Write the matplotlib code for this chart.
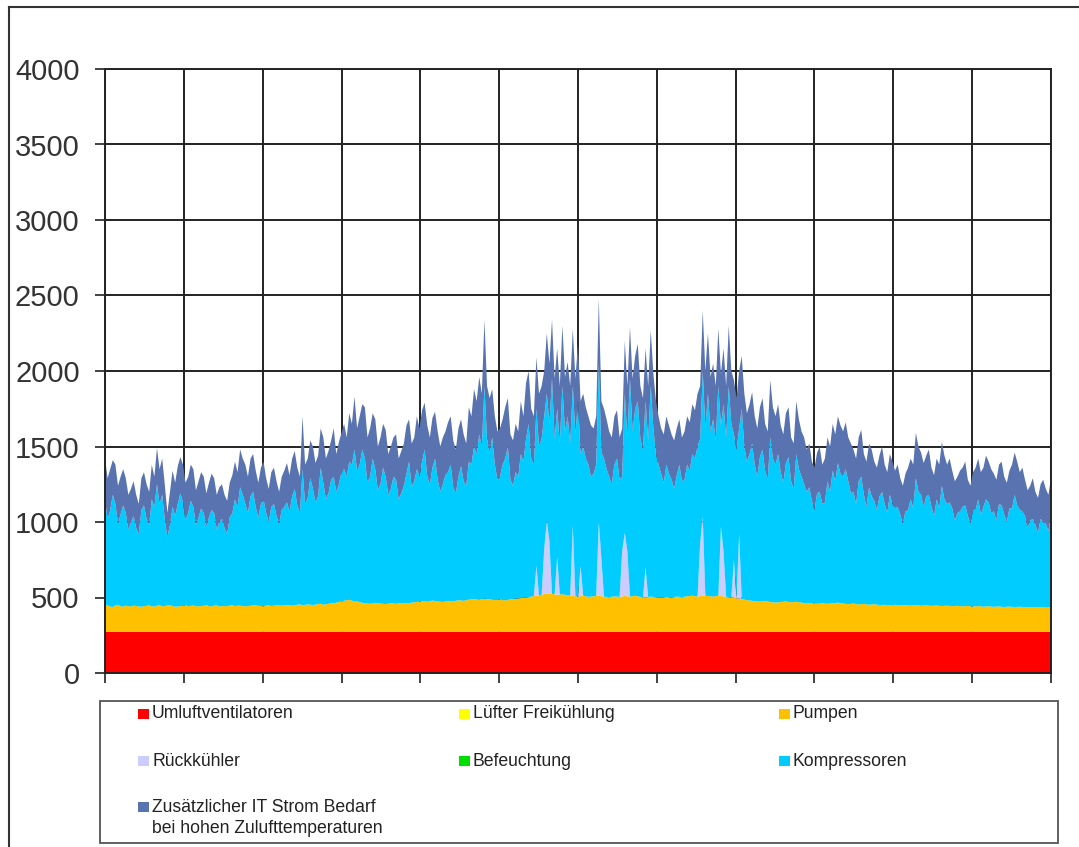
import numpy as np
import matplotlib.pyplot as plt
from matplotlib.patches import Rectangle
from matplotlib.lines import Line2D

plt.rcParams['font.family'] = ['Liberation Sans', 'DejaVu Sans']

# Jahresverlauf, ein Wert pro Tag (Oberkanten der Flächen, kW)
umluft_oben = 272
pumpen_oben = [
    445, 449, 440, 437, 448, 451, 442, 439, 446, 443,
    440, 446, 444, 441, 438, 443, 445, 448, 442, 439,
    446, 450, 441, 444, 447, 450, 443, 439, 440, 443,
    445, 448, 442, 445, 447, 443, 441, 444, 445, 449,
    443, 440, 446, 449, 440, 443, 444, 441, 447, 450,
    442, 446, 446, 443, 441, 444, 445, 449, 448, 445,
    444, 441, 447, 450, 442, 446, 448, 451, 445, 448,
    450, 447, 446, 449, 452, 455, 448, 451, 455, 452,
    450, 453, 456, 459, 452, 455, 458, 461, 462, 466,
    470, 474, 478, 482, 485, 479, 472, 475, 468, 465,
    462, 460, 458, 461, 465, 462, 460, 458, 456, 459,
    462, 460, 458, 461, 464, 462, 460, 463, 466, 468,
    470, 473, 476, 474, 472, 476, 480, 477, 475, 472,
    470, 474, 478, 476, 474, 478, 482, 480, 478, 482,
    486, 488, 490, 487, 484, 488, 492, 490, 488, 485,
    482, 484, 486, 483, 480, 484, 488, 490, 492, 494,
    496, 498, 500, 503, 506, 509, 512, 515, 518, 523,
    528, 526, 524, 521, 518, 520, 522, 518, 514, 512,
    510, 508, 506, 509, 512, 508, 504, 506, 508, 510,
    512, 509, 506, 504, 502, 505, 508, 506, 504, 507,
    510, 508, 506, 509, 512, 508, 504, 502, 500, 503,
    506, 504, 502, 500, 498, 501, 504, 502, 500, 503,
    506, 504, 502, 505, 508, 510, 512, 509, 506, 510,
    514, 512, 510, 508, 506, 509, 512, 510, 508, 505,
    502, 500, 498, 495, 492, 489, 486, 483, 480, 478,
    476, 474, 472, 475, 478, 474, 470, 468, 466, 468,
    470, 472, 474, 471, 468, 470, 472, 469, 466, 463,
    460, 462, 464, 461, 458, 460, 462, 460, 458, 460,
    462, 464, 466, 463, 460, 458, 456, 458, 460, 457,
    454, 456, 458, 455, 452, 454, 456, 453, 450, 451,
    452, 450, 448, 450, 452, 449, 447, 448, 450, 448,
    446, 448, 450, 447, 445, 447, 449, 446, 444, 446,
    447, 445, 443, 445, 446, 444, 442, 444, 445, 443,
    441, 443, 444, 442, 440, 442, 443, 441, 439, 441,
    442, 440, 438, 440, 441, 439, 437, 439, 440, 438,
    436, 438, 439, 437, 435, 437, 438, 436, 434, 436,
    437, 435, 433, 435, 436,
]
kompressor_oben = [
    1150, 1020, 1080, 1180, 1120, 990, 1050, 1110, 1060, 950,
    1000, 1040, 960, 920, 1080, 1110, 1020, 980, 1150, 1100,
    1250, 1120, 1180, 1020, 900, 980, 1100, 1040, 1120, 1190,
    1130, 1010, 1060, 1140, 1100, 980, 1030, 1090, 1060, 970,
    1030, 1080, 1060, 950, 1000, 1020, 960, 920, 1030, 1060,
    1150, 1100, 1230, 1180, 1120, 1060, 1170, 1200, 1100, 1030,
    1120, 1150, 1060, 1000, 1100, 1120, 1040, 990, 1080, 1100,
    1130, 1070, 1170, 1220, 1110, 1060, 1350, 1120, 1160, 1290,
    1220, 1130, 1170, 1360, 1260, 1150, 1190, 1280, 1300, 1200,
    1250, 1330, 1350, 1300, 1400, 1380, 1480, 1340, 1380, 1480,
    1420, 1260, 1300, 1420, 1350, 1210, 1250, 1360, 1300, 1180,
    1220, 1300, 1280, 1150, 1190, 1240, 1320, 1400, 1230, 1270,
    1350, 1300, 1400, 1480, 1300, 1250, 1360, 1420, 1280, 1200,
    1250, 1310, 1330, 1380, 1230, 1190, 1300, 1370, 1270, 1240,
    1400, 1380, 1500, 1450, 1580, 1500, 1900, 1550, 1460, 1560,
    1380, 1280, 1300, 1380, 1420, 1500, 1280, 1240, 1330, 1300,
    1450, 1400, 1550, 1650, 1420, 1380, 1750, 1500, 1550, 1700,
    1850, 1650, 1950, 1550, 1750, 1520, 1900, 1600, 1700, 1520,
    1900, 1580, 1800, 1450, 1500, 1420, 1380, 1300, 1320, 1380,
    2050, 1460, 1420, 1350, 1300, 1250, 1380, 1420, 1280, 1300,
    1850, 1560, 1950, 1600, 1750, 1800, 1550, 1480, 1800, 1540,
    1900, 1620, 1450, 1380, 1320, 1260, 1380, 1320, 1280, 1220,
    1310, 1380, 1270, 1280, 1380, 1340, 1450, 1420, 1500, 1550,
    2000, 1620, 1850, 1600, 1680, 1540, 1900, 1640, 1780, 1560,
    1900, 1650, 1580, 1480, 1620, 1750, 1500, 1400, 1450, 1520,
    1380, 1300, 1430, 1480, 1340, 1280, 1560, 1420, 1380, 1450,
    1330, 1260, 1390, 1430, 1270, 1220, 1450, 1350, 1300, 1250,
    1200, 1230, 1140, 1080, 1190, 1200, 1120, 1130, 1270, 1200,
    1340, 1270, 1390, 1320, 1300, 1350, 1270, 1190, 1200, 1120,
    1270, 1300, 1180, 1100, 1230, 1170, 1140, 1080, 1170, 1200,
    1120, 1060, 1180, 1120, 1090, 1100, 1050, 990, 1070, 1080,
    1150, 1090, 1290, 1200, 1180, 1100, 1170, 1180, 1100, 1040,
    1150, 1090, 1240, 1150, 1120, 1130, 1090, 1010, 1060, 1070,
    1100, 1110, 1040, 990, 1080, 1080, 1150, 1050, 1100, 1150,
    1130, 1060, 1070, 1010, 1120, 1110, 1050, 1000, 1090, 1090,
    1180, 1110, 1080, 1070, 1040, 960, 1010, 1020, 980, 930,
    1020, 1000, 990, 940, 1050,
]
gesamt_oben = [
    1420, 1290, 1350, 1410, 1380, 1240, 1300, 1350, 1290, 1180,
    1220, 1270, 1180, 1120, 1290, 1330, 1250, 1200, 1380, 1300,
    1490, 1350, 1420, 1250, 1060, 1200, 1340, 1260, 1370, 1430,
    1380, 1260, 1300, 1380, 1350, 1210, 1270, 1330, 1300, 1190,
    1260, 1320, 1290, 1180, 1230, 1250, 1180, 1140, 1260, 1310,
    1400, 1330, 1480, 1420, 1380, 1300, 1420, 1450, 1340, 1260,
    1360, 1400, 1290, 1220, 1330, 1360, 1270, 1200, 1300, 1340,
    1390, 1310, 1420, 1470, 1360, 1300, 1700, 1380, 1420, 1540,
    1500, 1390, 1440, 1620, 1560, 1420, 1470, 1540, 1620, 1450,
    1530, 1590, 1650, 1560, 1720, 1650, 1830, 1620, 1700, 1780,
    1760, 1560, 1620, 1720, 1680, 1500, 1560, 1650, 1610, 1450,
    1500, 1560, 1580, 1420, 1470, 1520, 1640, 1680, 1520, 1560,
    1700, 1620, 1740, 1790, 1640, 1560, 1690, 1730, 1600, 1500,
    1560, 1600, 1660, 1700, 1540, 1480, 1620, 1680, 1580, 1520,
    1760, 1700, 1880, 1800, 1960, 1850, 2340, 1900, 1820, 1880,
    1700, 1600, 1620, 1680, 1760, 1820, 1580, 1540, 1650, 1600,
    1800, 1700, 1920, 2000, 1750, 1700, 2090, 1850, 1900, 2000,
    2250, 2050, 2340, 1950, 2150, 1900, 2300, 1960, 2060, 1900,
    2280, 1950, 2180, 1800, 1850, 1760, 1700, 1640, 1620, 1700,
    2480, 1800, 1750, 1680, 1600, 1560, 1700, 1740, 1560, 1620,
    2200, 1900, 2290, 1950, 2100, 2180, 1900, 1820, 2150, 1900,
    2270, 1980, 1800, 1700, 1620, 1580, 1700, 1640, 1580, 1540,
    1620, 1680, 1560, 1600, 1700, 1660, 1780, 1740, 1850, 1900,
    2400, 2000, 2250, 1960, 2050, 1900, 2280, 1980, 2150, 1900,
    2300, 2000, 1940, 1820, 2000, 2100, 1850, 1720, 1780, 1860,
    1700, 1620, 1760, 1820, 1650, 1600, 1940, 1760, 1700, 1780,
    1640, 1580, 1720, 1760, 1560, 1520, 1800, 1680, 1600, 1560,
    1480, 1520, 1400, 1360, 1460, 1500, 1380, 1420, 1560, 1500,
    1650, 1580, 1700, 1640, 1600, 1660, 1560, 1520, 1480, 1420,
    1560, 1610, 1450, 1400, 1520, 1480, 1400, 1360, 1440, 1500,
    1380, 1330, 1450, 1400, 1340, 1380, 1290, 1240, 1320, 1360,
    1420, 1380, 1590, 1500, 1460, 1390, 1440, 1480, 1360, 1310,
    1420, 1380, 1530, 1440, 1380, 1420, 1340, 1270, 1300, 1340,
    1360, 1400, 1280, 1240, 1330, 1360, 1420, 1330, 1360, 1440,
    1400, 1350, 1320, 1280, 1380, 1400, 1300, 1260, 1340, 1380,
    1460, 1400, 1330, 1360, 1280, 1210, 1240, 1290, 1200, 1160,
    1250, 1280, 1220, 1180, 1290,
]
# Rückkühler nur an einzelnen heißen Tagen sichtbar (Tag, kW)
rueck_tag = [166, 169, 170, 171, 174, 180, 183, 190, 191, 199,
             200, 201, 208, 229, 230, 237, 238, 242, 244]
rueck_wert = [200, 300, 480, 350, 250, 470, 200, 490, 250, 300,
              420, 300, 200, 350, 520, 460, 300, 250, 430]

labels = ["Umluftventilatoren", "Lüfter Freikühlung", "Pumpen",
          "Rückkühler", "Befeuchtung", "Kompressoren",
          "Zusätzlicher IT Strom Bedarf\nbei hohen Zulufttemperaturen"]
farben = ["#FF0000", "#FFFF00", "#FFC000", "#CCCCFF", "#00DD00", "#00CCFF", "#5873B0"]

n = len(gesamt_oben)
stunden = np.linspace(0, 8760, n)
p_oben = np.array(pumpen_oben, float)
k_oben = np.array(kompressor_oben, float)
g_oben = np.array(gesamt_oben, float)

umluft = np.full(n, float(umluft_oben))
luefter = np.zeros(n)
pumpen = p_oben - umluft
rueck = np.zeros(n)
rueck[rueck_tag] = rueck_wert
befeuchtung = np.zeros(n)
kompressoren = k_oben - p_oben - rueck
it_strom = g_oben - k_oben

W, H = 1079, 847
fig = plt.figure(figsize=(W / 100, H / 100), dpi=100)
ax = fig.add_axes([105 / W, 1 - 673 / H, 946 / W, 604 / H])

ax.stackplot(stunden, umluft, luefter, pumpen, rueck, befeuchtung,
             kompressoren, it_strom, colors=farben, linewidth=0)

ax.set_xlim(0, 8760)
ax.set_ylim(0, 4000)
ax.set_xticks(np.arange(0, 8761, 730))
ax.set_xticklabels([])
ax.set_yticks(np.arange(0, 4001, 500))
ax.tick_params(axis='y', direction='out', length=7.2, width=1.2, pad=11,
               labelsize=21, labelcolor='#333333', color='#222222')
ax.tick_params(axis='x', direction='out', length=7.2, width=1.2, color='#222222')
ax.set_axisbelow(True)
ax.grid(True, color='#222222', linewidth=1.4)
for s in ax.spines.values():
    s.set_color('#222222')
    s.set_linewidth(1.4)


def fx(px):
    return px / W


def fy(py):
    return 1 - py / H


# Rahmen oben/links
fig.add_artist(Line2D([fx(9), fx(9)], [0, fy(7)], color='#333333', lw=1.5))
fig.add_artist(Line2D([fx(9), 1], [fy(7), fy(7)], color='#333333', lw=1.5))

# Legende
fig.add_artist(Rectangle((fx(100), fy(843)), fx(1058) - fx(100), fy(701) - fy(843),
                         transform=fig.transFigure, fill=False,
                         edgecolor='#555555', lw=1.3))
spalten = [138, 459, 779]
zeilen = [714, 761, 807]
pos = [(0, 0), (1, 0), (2, 0), (0, 1), (1, 1), (2, 1), (0, 2)]
for (c, r), lab, col in zip(pos, labels, farben):
    x0 = spalten[c]
    y0 = zeilen[r]
    fig.add_artist(Rectangle((fx(x0), fy(y0 + 5)), 11 / W, 10 / H,
                             transform=fig.transFigure, facecolor=col,
                             edgecolor='none'))
    if '\n' in lab:
        fig.text(fx(x0 + 14), fy(y0 + 11), lab, fontsize=12.7, color='#222222',
                 ha='left', va='center', linespacing=1.25)
    else:
        fig.text(fx(x0 + 14), fy(y0), lab, fontsize=12.7, color='#222222',
                 ha='left', va='center')

fig.savefig("out.png", dpi=100)
